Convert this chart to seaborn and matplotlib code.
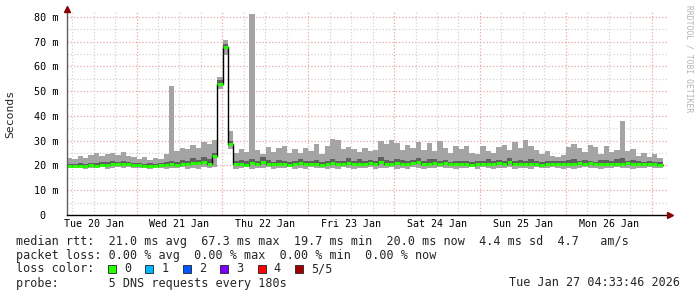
import numpy as np
import pandas as pd
import matplotlib
matplotlib.use("Agg")
import matplotlib.pyplot as plt
import seaborn as sns
from matplotlib.patches import Rectangle

# ---------------- data ----------------
day_labels = ["Tue 20 Jan", "Wed 21 Jan", "Thu 22 Jan", "Fri 23 Jan",
              "Sat 24 Jan", "Sun 25 Jan", "Mon 26 Jan"]
y_ticks = [0, 10, 20, 30, 40, 50, 60, 70, 80]
y_tick_labels = ["0  ", "10 m", "20 m", "30 m", "40 m", "50 m", "60 m", "70 m", "80 m"]

# median rtt per 1.5 h bin (ms)
med = [19.8, 19.6, 19.9, 19.7, 20.0, 19.8, 20.3, 20.1, 20.6, 20.4,
       20.8, 20.5, 20.2, 20.0, 19.8, 19.9, 19.7, 20.0, 20.2, 20.5,
       20.3, 20.8, 20.6, 21.2, 20.9, 21.5, 20.8, 23.8, 53.0, 67.8,
       28.6, 20.4, 20.6, 20.3, 20.9, 20.5, 21.6, 20.7, 20.4, 20.8,
       20.5, 20.3, 20.6, 20.9, 20.4, 20.5, 20.8, 20.3, 20.6, 20.9,
       20.4, 20.6, 21.2, 20.5, 20.8, 20.4, 21.0, 20.6, 21.4, 20.7,
       20.5, 21.1, 20.8, 20.4, 20.9, 21.3, 20.6, 20.8, 21.0, 20.5,
       20.9, 20.4, 20.7, 20.5, 20.6, 20.3, 20.6, 20.4, 20.8, 20.5,
       20.9, 20.6, 21.3, 20.4, 20.7, 20.5, 20.8, 20.6, 20.3, 20.5,
       20.7, 20.4, 20.6, 20.5, 20.8, 21.2, 20.6, 20.9, 20.5, 20.4,
       20.6, 20.8, 20.5, 20.4, 21.0, 20.6, 20.5, 20.7, 20.4, 20.6, 20.0]
# lower edge of smoke
lo = [19.0, 18.8, 19.2, 18.7, 19.1, 18.9, 19.3, 18.6, 19.0, 19.2,
      18.9, 19.3, 19.0, 18.8, 19.1, 18.7, 19.2, 19.0, 18.6, 19.1,
      18.8, 19.2, 18.5, 19.0, 18.7, 19.3, 18.9, 19.4, 51.0, 64.5,
      26.5, 18.4, 18.9, 19.2, 18.6, 19.0, 18.8, 19.3, 18.5, 19.1,
      18.9, 19.2, 18.7, 19.0, 18.6, 19.3, 18.8, 19.1, 18.5, 19.0,
      18.7, 19.2, 18.9, 18.6, 19.1, 18.8, 19.3, 18.5, 19.0, 18.9,
      19.2, 18.7, 19.0, 18.6, 19.3, 18.9, 18.5, 19.1, 18.8, 19.2,
      18.9, 19.1, 18.6, 19.0, 18.8, 19.2, 18.7, 19.3, 18.9, 18.6,
      19.0, 18.8, 19.2, 18.5, 19.1, 18.9, 18.7, 19.3, 19.0, 18.8,
      19.2, 19.0, 18.7, 19.1, 18.6, 18.9, 19.3, 18.8, 19.0, 18.7,
      19.1, 18.9, 19.2, 18.8, 19.0, 18.7, 19.1, 18.9, 19.2, 19.0, 19.1]
# upper edge of smoke
hi = [23.0, 22.6, 23.8, 23.2, 24.3, 24.9, 23.7, 24.6, 25.1, 24.2,
      25.6, 24.0, 23.4, 22.8, 23.3, 22.4, 23.0, 22.6, 24.5, 52.0,
      25.8, 27.2, 26.5, 28.4, 27.0, 29.5, 28.8, 30.2, 55.7, 70.5,
      34.0, 25.0, 26.8, 25.5, 81.0, 26.2, 24.8, 27.5, 25.4, 26.9,
      28.0, 25.2, 26.6, 24.9, 27.2, 26.0, 28.5, 24.6, 27.8, 30.9,
      30.4, 26.5, 27.4, 26.8, 25.5, 27.0, 25.8, 26.3, 29.8, 28.5,
      30.2, 29.0, 26.4, 28.2, 27.0, 29.6, 26.2, 28.9, 25.7, 29.8,
      27.1, 24.9, 28.0, 26.5, 27.8, 25.2, 24.5, 27.9, 26.0, 25.1,
      27.3, 28.4, 26.1, 29.6, 27.2, 30.1, 28.0, 26.3, 24.8, 25.9,
      24.0, 23.6, 24.4, 27.6, 28.7, 26.9, 25.3, 28.1, 27.4, 24.7,
      28.0, 25.6, 26.3, 37.8, 25.9, 26.8, 23.9, 25.1, 23.4, 24.6, 23.2]
# upper edge of the dense (dark) smoke
dk = [20.8, 20.5, 21.0, 20.6, 21.2, 21.0, 21.5, 21.3, 21.9, 21.6,
      22.0, 21.6, 21.2, 20.9, 20.8, 20.9, 20.7, 21.1, 21.5, 22.0,
      21.6, 22.3, 22.0, 22.9, 22.4, 23.6, 22.5, 25.0, 54.5, 69.0,
      30.0, 21.8, 22.4, 21.7, 22.5, 21.9, 23.4, 22.1, 21.6, 22.3,
      21.9, 21.5, 22.0, 22.6, 21.8, 21.7, 22.3, 21.6, 22.0, 22.7,
      21.8, 22.0, 22.9, 21.9, 22.6, 21.7, 22.4, 21.9, 23.5, 22.2,
      21.9, 22.8, 22.4, 21.7, 22.3, 23.0, 21.9, 22.5, 22.6, 21.8,
      22.3, 21.6, 22.0, 21.9, 21.8, 21.6, 22.0, 21.8, 22.5, 21.9,
      22.4, 21.8, 22.9, 21.7, 22.2, 21.9, 22.6, 22.0, 21.6, 21.8,
      21.9, 21.7, 21.9, 22.4, 22.8, 21.9, 22.3, 22.0, 21.6, 22.3,
      22.1, 21.8, 22.6, 23.0, 21.9, 22.3, 21.8, 21.6, 21.9, 21.5, 21.4]

loss_labels = ["0", "1", "2", "3", "4", "5/5"]
loss_colors = ["#26ff00", "#00b8ff", "#0059ff", "#7e00ff", "#ff0000", "#a10000"]

line_rtt = "median rtt:  21.0 ms avg  67.3 ms max  19.7 ms min  20.0 ms now  4.4 ms sd  4.7   am/s"
line_loss = "packet loss: 0.00 % avg  0.00 % max  0.00 % min  0.00 % now"
line_color = "loss color:"
line_probe = "probe:       5 DNS requests every 180s"
stamp = "Tue Jan 27 04:33:46 2026"

# ---------------- layout constants ----------------
BIN_H = 1.5
SPAN_H = 168.0
MIDNIGHT0 = 19 + 26 / 60 + 14 / 3600   # first midnight after window start (h)
W, H = 697, 297

sns.set_style("white")
plt.rcParams["font.family"] = ["DejaVu Sans Mono"]

fig = plt.figure(figsize=(W / 100, H / 100), dpi=100)
fig.patch.set_facecolor("white")
ax = fig.add_axes([67 / W, 82 / H, 601 / W, 203 / H])
ax.set_facecolor("white")
ax.set_xlim(0, SPAN_H)
ax.set_ylim(0, 82.0)

# grid
minor_col = "#d4d4d4"
major_col = "#e6a8a8"
dot = (0, (1, 1.6))
for yv in np.arange(5, 81, 5):
    ax.axhline(yv, color=major_col if yv % 10 == 0 else minor_col, lw=0.9,
               ls=dot, zorder=0)
for xv in np.arange(MIDNIGHT0 - 18, SPAN_H, 6.0):
    if xv <= 0:
        continue
    is_major = abs(((xv - MIDNIGHT0) / 24) - round((xv - MIDNIGHT0) / 24)) < 1e-6
    ax.axvline(xv, color=major_col if is_major else minor_col, lw=0.9,
               ls=dot, zorder=0)

# smoke
n = len(med)
x = np.arange(n) * BIN_H
med_a, lo_a, hi_a, dk_a = map(np.asarray, (med, lo, hi, dk))
ax.bar(x, hi_a - lo_a, bottom=lo_a, width=BIN_H, align="edge",
       color="#a4a4a4", linewidth=0, zorder=2)
ax.bar(x, dk_a - med_a, bottom=med_a, width=BIN_H, align="edge",
       color="#606060", linewidth=0, zorder=3)

# median: black step line + green loss-coloured segments
df = pd.DataFrame({"t": np.append(x, x[-1] + BIN_H),
                   "rtt": np.append(med_a, med_a[-1])})
sns.lineplot(data=df, x="t", y="rtt", drawstyle="steps-post", color="black",
             lw=1.0, ax=ax, zorder=4, estimator=None, sort=False)
ax.hlines(med_a, x, x + BIN_H, colors=loss_colors[0], lw=2.1, zorder=5)
ax.set_xlabel("")
ax.set_ylabel("")

# axes
for s in ["top", "right"]:
    ax.spines[s].set_visible(False)
ax.spines["left"].set_color("#606060")
ax.spines["bottom"].set_color("#000000")
ax.spines["left"].set_linewidth(1.0)
ax.spines["bottom"].set_linewidth(1.0)
ax.spines["left"].set_zorder(6)
ax.spines["bottom"].set_zorder(6)
ax.plot([0], [1.015], marker="^", color="#8b0000", ms=4.5, transform=ax.transAxes,
        clip_on=False, zorder=7)
ax.plot([1.004], [0], marker=">", color="#8b0000", ms=4.5, transform=ax.transAxes,
        clip_on=False, zorder=7)

ax.set_yticks(y_ticks)
ax.set_yticklabels(y_tick_labels)
ax.tick_params(axis="y", length=0, pad=6, labelsize=7.3, colors="#000000")
noon = [MIDNIGHT0 - 12 + 24 * k for k in range(len(day_labels))]
ax.set_xticks(noon)
ax.set_xticklabels(day_labels)
ax.tick_params(axis="x", length=0, pad=3, labelsize=7.2, colors="#000000")

fig.text(10 / W, 1 - 114 / H, "Seconds", rotation=90, ha="center", va="center",
         fontsize=8.2)
fig.text(689 / W, 1 - 59 / H, "RRDTOOL / TOBI OETIKER", rotation=270,
         ha="center", va="center", fontsize=5.8, color="#b4b4b4")

# legend / stats block
fs = 8.5
rows = [241, 255, 269, 283]
fig.text(16 / W, 1 - rows[0] / H, line_rtt, ha="left", va="center", fontsize=fs)
fig.text(16 / W, 1 - rows[1] / H, line_loss, ha="left", va="center", fontsize=fs)
fig.text(16 / W, 1 - rows[2] / H, line_color, ha="left", va="center", fontsize=fs)
fig.text(16 / W, 1 - rows[3] / H, line_probe, ha="left", va="center", fontsize=fs)
fig.text(680 / W, 1 - rows[3] / H, stamp, ha="right", va="center", fontsize=fs)
box_x0, box_step, box_sz = 108, 37.4, 8
for k, (lab, col) in enumerate(zip(loss_labels, loss_colors)):
    bx = box_x0 + k * box_step
    fig.patches.append(Rectangle((bx / W, 1 - (rows[2] + box_sz / 2) / H),
                                 box_sz / W, box_sz / H, facecolor=col,
                                 edgecolor="#202020", lw=0.6,
                                 transform=fig.transFigure, figure=fig))
    fig.text((bx + 16) / W, 1 - rows[2] / H, lab, ha="left", va="center", fontsize=fs)

fig.savefig("out.png", dpi=100, facecolor="white")
